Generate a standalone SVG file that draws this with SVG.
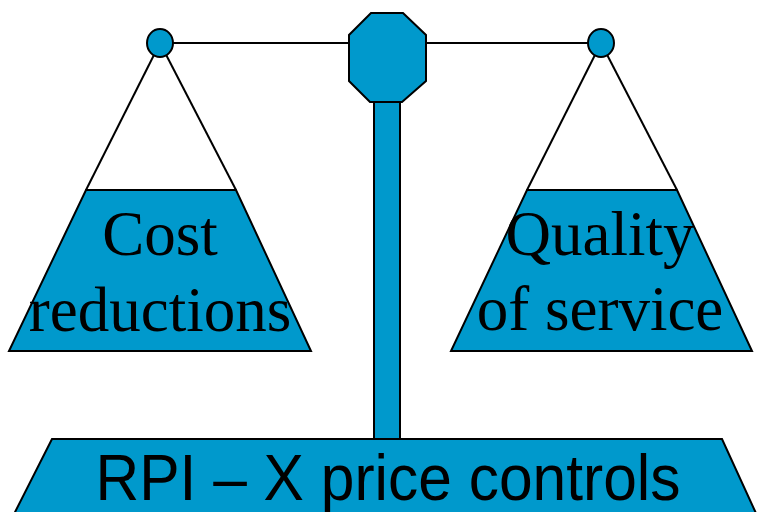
<svg xmlns="http://www.w3.org/2000/svg" width="761" height="512" viewBox="0 0 761 512">
<style>
.f{fill:#0099CC;stroke:#000;stroke-width:2;stroke-linejoin:miter}
.l{stroke:#000;stroke-width:2;fill:none}
.s{font-family:"Liberation Serif","Times New Roman",serif;font-size:63px;fill:#000;text-anchor:middle}
.b{font-family:"Liberation Sans",Arial,sans-serif;font-size:65px;fill:#000;text-anchor:middle}
</style>
<rect width="761" height="512" fill="#fff"/>
<g id="connectors">
<line class="l" x1="160" y1="43" x2="601" y2="43"/>
<line class="l" x1="160" y1="43" x2="86" y2="190"/>
<line class="l" x1="160" y1="43" x2="236" y2="190"/>
<line class="l" x1="601" y1="43" x2="527" y2="190"/>
<line class="l" x1="601" y1="43" x2="677" y2="190"/>
</g>
<g id="base">
<polygon class="f" points="52,439 722,439 760,522 10,522"/>
<text class="b" x="388" y="500" textLength="585" lengthAdjust="spacingAndGlyphs">RPI – X price controls</text>
</g>
<g id="pole">
<rect class="f" x="374" y="100" width="26" height="339"/>
</g>
<g id="pivot">
<polygon class="f" points="371,13 403,13 426,35 426,81 402,102 370,102 349,81 349,35"/>
</g>
<g id="left-hook">
<ellipse class="f" cx="160" cy="43" rx="13" ry="14"/>
</g>
<g id="right-hook">
<ellipse class="f" cx="601" cy="43" rx="13" ry="14"/>
</g>
<g id="left-pan">
<polygon class="f" points="86,190 236,190 311,351 9,351"/>
<text class="s" x="160" y="255">Cost</text>
<text class="s" x="160" y="331">reductions</text>
</g>
<g id="right-pan">
<polygon class="f" points="527,190 677,190 752,351 451,351"/>
<text class="s" x="600" y="255">Quality</text>
<text class="s" x="600" y="330">of service</text>
</g>
</svg>
